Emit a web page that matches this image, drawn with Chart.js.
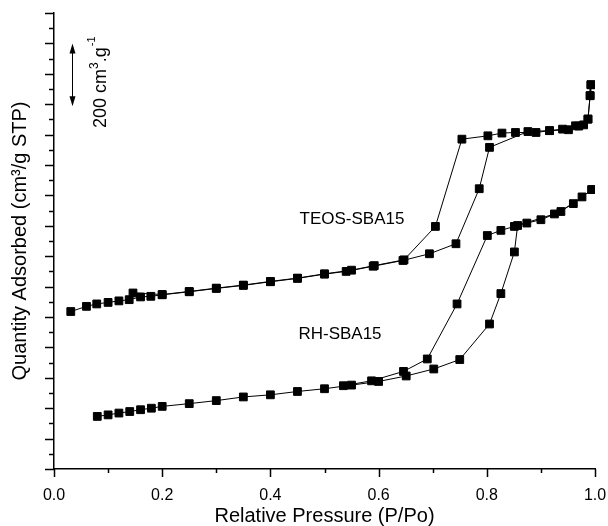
<!DOCTYPE html>
<html>
<head>
<meta charset="utf-8">
<script src="https://cdn.jsdelivr.net/npm/chart.js@4"></script>
<style>
html,body{margin:0;padding:0;background:#fff;}
#wrap{width:608px;height:526px;position:relative;}
</style>
</head>
<body>
<div id="wrap"><canvas id="c" width="608" height="526"></canvas></div>
<script>
// Relative pressure (P/Po) and quantity adsorbed (stacked offset, cm3/g)
const teosAdsP = [0.031,0.060,0.079,0.100,0.120,0.139,0.160,0.179,0.200,0.250,0.300,0.350,0.400,0.450,0.500,0.540,0.590,0.645,0.694,0.743,0.786,0.805,0.876,0.916,0.940,0.964,0.979,0.987,0.991,0.9925];
const teosAdsV = [518,535,543,548,553,557,566,568,573,583,594,604,616,627,641,650,667,686,708,741,922,1058,1110,1113,1118,1129,1132,1151,1228,1264];
const teosDesP = [0.9925,0.991,0.987,0.970,0.951,0.916,0.891,0.853,0.828,0.802,0.754,0.705,0.647,0.592,0.550,0.500,0.450,0.400,0.350,0.300,0.250,0.200,0.146];
const teosDesV = [1264,1228,1151,1128,1116,1113,1107,1107,1105,1096,1085,798,688,669,654,642,628,617,605,595,584,574,579];
const rhAdsP = [0.080,0.100,0.120,0.140,0.160,0.180,0.200,0.250,0.300,0.350,0.400,0.450,0.500,0.550,0.600,0.651,0.702,0.750,0.805,0.826,0.851,0.857,0.874,0.900,0.937,0.976,0.994];
const rhAdsV = [173,178,184,189,195,200,206,215,225,237,244,255,264,276,288,306,329,360,477,577,714,801,809,820,847,895,919];
const rhDesP = [0.994,0.960,0.925,0.851,0.826,0.801,0.745,0.690,0.646,0.587,0.535];
const rhDesV = [919,873,839,798,785,768,543,362,321,290,274];
const xTickLabels = ['0.0','0.2','0.4','0.6','0.8','1.0'];
const sampleLabels = ['TEOS-SBA15','RH-SBA15'];

const FONT = '"Liberation Sans", Arial, Helvetica, sans-serif';
const toPts = (P, V) => P.map((p, i) => ({x: p, y: V[i]}));
const ds = (P, V) => ({
  data: toPts(P, V), showLine: true, borderColor: '#000', borderWidth: 1,
  pointStyle: 'rect', pointRadius: 5.5, pointBackgroundColor: '#000', pointBorderColor: '#000', pointBorderWidth: 1,
  pointHoverRadius: 5.5
});

const decor = {
  id: 'decor',
  afterDraw(chart) {
    const {ctx, scales: {x, y}, chartArea: a} = chart;
    ctx.save();
    ctx.strokeStyle = '#000';
    ctx.lineWidth = 1.5;
    // y ticks (major 100, minor 50), outward
    for (let v = 0; v <= 1500; v += 50) {
      const py = Math.round(y.getPixelForValue(v)) + 0.5;
      const len = (v % 100 === 0) ? 9 : 5;
      ctx.beginPath(); ctx.moveTo(a.left, py); ctx.lineTo(a.left - len, py); ctx.stroke();
    }
    // x ticks (major 0.2, minor 0.1), outward
    for (let i = 0; i <= 10; i++) {
      const px = Math.round(x.getPixelForValue(i / 10)) + 0.5;
      const len = (i % 2 === 0) ? 8 : 4;
      ctx.beginPath(); ctx.moveTo(px, a.bottom); ctx.lineTo(px, a.bottom + len); ctx.stroke();
    }
    // sample labels
    ctx.fillStyle = '#000';
    ctx.font = '17px ' + FONT;
    ctx.textAlign = 'center'; ctx.textBaseline = 'middle';
    ctx.fillText(sampleLabels[0], 352, 219);
    ctx.fillText(sampleLabels[1], 340, 334);
    // scale arrow (200 cm3/g)
    const ax = 72.5, y1 = y.getPixelForValue(1400), y2 = y.getPixelForValue(1193);
    ctx.lineWidth = 1;
    ctx.beginPath(); ctx.moveTo(ax, y1 + 2); ctx.lineTo(ax, y2 - 2); ctx.stroke();
    ctx.beginPath(); ctx.moveTo(ax, y1); ctx.lineTo(ax - 3, y1 + 10); ctx.lineTo(ax + 3, y1 + 10); ctx.closePath(); ctx.fill();
    ctx.beginPath(); ctx.moveTo(ax, y2); ctx.lineTo(ax - 3, y2 - 10); ctx.lineTo(ax + 3, y2 - 10); ctx.closePath(); ctx.fill();
    // rotated scale text
    ctx.translate(106, 128);
    ctx.rotate(-Math.PI / 2);
    ctx.textAlign = 'left'; ctx.textBaseline = 'alphabetic';
    ctx.font = '18px ' + FONT;
    let t = '200 cm';
    ctx.fillText(t, 0, 0);
    let w = ctx.measureText(t).width;
    ctx.font = '12px ' + FONT;
    ctx.fillText('3', w, -8);
    w += ctx.measureText('3').width;
    ctx.font = '18px ' + FONT;
    ctx.fillText('.g', w, 0);
    w += ctx.measureText('.g').width;
    ctx.font = '11px ' + FONT;
    ctx.fillText('-1', w + 1, -11);
    ctx.restore();
  }
};

new Chart(document.getElementById('c'), {
  type: 'scatter',
  data: { datasets: [ds(teosAdsP, teosAdsV), ds(teosDesP, teosDesV), ds(rhAdsP, rhAdsV), ds(rhDesP, rhDesV)] },
  options: {
    responsive: false, animation: false, events: [],
    layout: { padding: { left: 0, top: 13, right: 13, bottom: 0 } },
    plugins: { legend: { display: false }, tooltip: { enabled: false } },
    scales: {
      x: {
        type: 'linear', min: 0, max: 1,
        grid: { display: false },
        border: { display: true, color: '#000', width: 1.5 },
        ticks: { stepSize: 0.2, color: '#000', font: { family: FONT, size: 16 }, padding: 9,
                 callback: (v) => { const i = Math.round(v * 5); return (Math.abs(v * 5 - i) < 1e-6) ? xTickLabels[i] : ''; } },
        title: { display: true, text: 'Relative Pressure (P/Po)', color: '#000', font: { family: FONT, size: 20, lineHeight: 1 }, padding: { top: 0, bottom: 0 } },
        afterFit: (s) => { s.height = 57; s.paddingLeft = 0; s.paddingRight = 0; }
      },
      y: {
        type: 'linear', min: 0, max: 1500,
        grid: { display: false },
        border: { display: true, color: '#000', width: 1.5 },
        ticks: { display: false, stepSize: 100 },
        title: { display: true, text: 'Quantity Adsorbed (cm³/g STP)', color: '#000', font: { family: FONT, size: 20, lineHeight: 1 }, padding: { top: 10, bottom: 0 } },
        afterFit: (s) => { s.width = 54; s.paddingTop = 0; s.paddingBottom = 0; }
      }
    }
  },
  plugins: [decor]
});
</script>
</body>
</html>
